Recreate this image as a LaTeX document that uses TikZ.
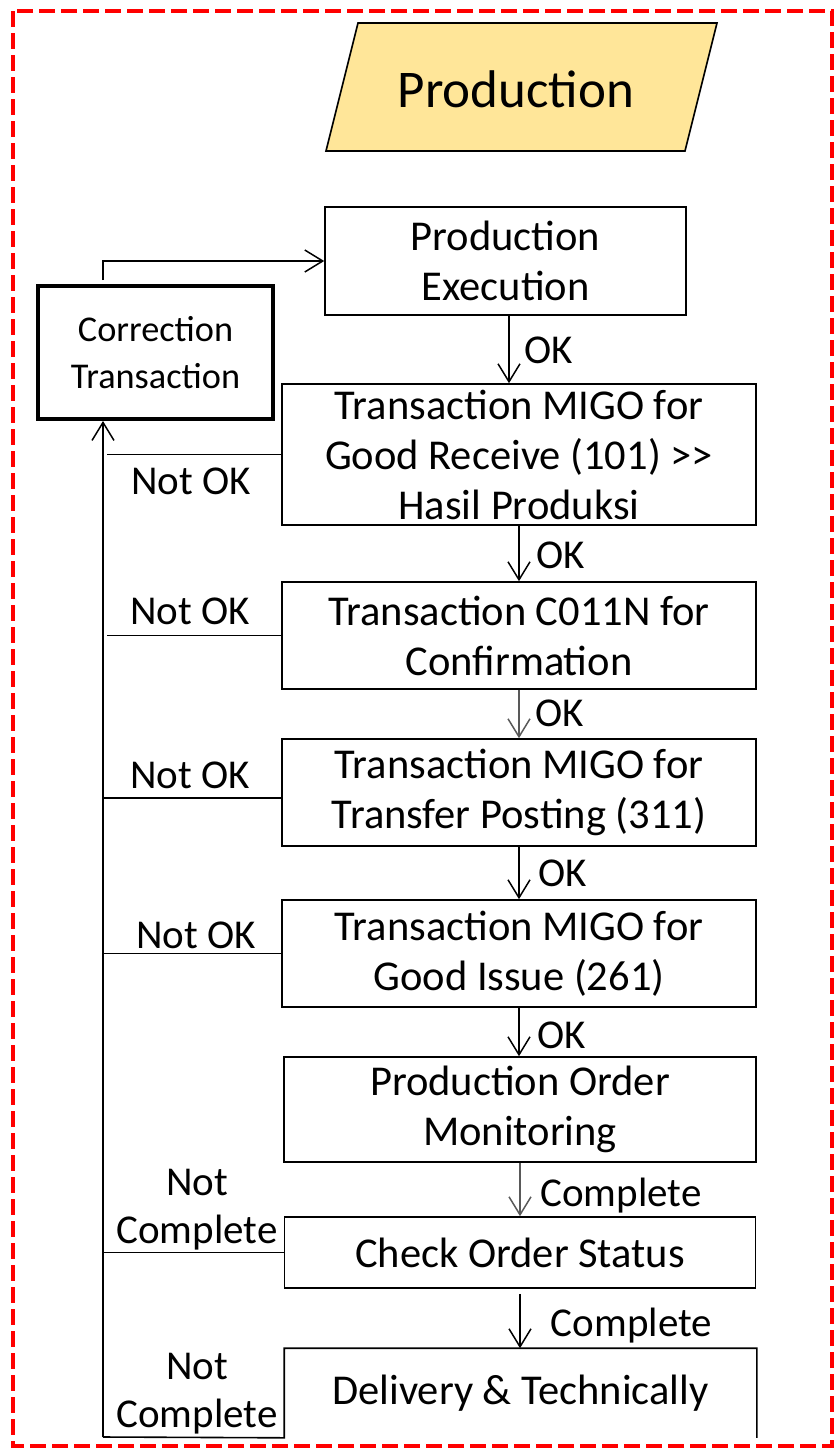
\documentclass[tikz,border=0pt]{standalone}
\usepackage{fontspec}
\setmainfont{Carlito}
\usetikzlibrary{arrows.meta,calc}
\definecolor{prodfill}{HTML}{FFE699}
\definecolor{bordred}{HTML}{FF0000}
\begin{document}
\begin{tikzpicture}[x=1pt,y=-1pt,
  box/.style={draw, line width=1.6pt, minimum width=474pt, inner sep=0pt, align=center, font=\fontsize{42.5}{50}\selectfont},
  arr/.style={-{Straight Barb[length=18pt,width=22pt,line width=1.5pt]}, line width=1.5pt},
  lbl/.style={font=\fontsize{41}{50}\selectfont, anchor=base, inner sep=0pt},
  lbl2/.style={font=\fontsize{41}{48}\selectfont, align=center, inner sep=0pt},
  link/.style={line width=1.6pt}]
\useasboundingbox (0,0) rectangle (838,1448);
\draw[bordred, line width=4pt, dash pattern=on 16pt off 6pt] (13,11) rectangle (832,1446);

% title parallelogram
\filldraw[fill=prodfill, draw=black, line width=1.6pt] (358,23) -- (717,23) -- (685,151) -- (326,151) -- cycle;
\node[font=\fontsize{53}{60}\selectfont, anchor=base, inner sep=0pt] (title) at (516,107) {Production};

% boxes
\node[draw, line width=4pt, minimum width=235pt, minimum height=133pt, inner sep=0pt, align=center, font=\fontsize{36.3}{47}\selectfont] (corr) at (155.5,352.5) {Correction\\Transaction};
\node[box, minimum width=361pt, minimum height=108pt] (pe) at (505.5,261) {Production\\Execution};
\node[box, minimum height=141pt] (b2) at (519,454.5) {Transaction MIGO for\\Good Receive (101) >{}>\\Hasil Produksi};
\node[box, minimum height=107pt] (b3) at (519,635.5) {Transaction C011N for\\Confirmation};
\node[box, minimum height=107pt] (b4) at (519,792.5) {Transaction MIGO for\\Transfer Posting (311)};
\node[box, minimum height=107pt] (b5) at (519,953.5) {Transaction MIGO for\\Good Issue (261)};
\node[box, minimum width=472pt, minimum height=105pt] (b6) at (520,1109.5) {Production Order\\Monitoring};
\node[box, minimum width=471pt, minimum height=71pt] (b7) at (520,1252.5) {Check Order Status};
\node[box, draw=none, minimum width=471pt, minimum height=88pt] (b8) at (520.5,1393) {Delivery \& Technically};

% return spine
\coordinate (spinebot) at (103,1437);
\coordinate (cstart) at (103,280);
\draw[link] (spinebot) -- (b8.south west) -- (b8.north west) -- (b8.north east) -- (b8.south east);
\draw[arr] (spinebot) -- (spinebot |- corr.south);
\draw[arr] (cstart) |- (pe.west);

% not ok lines
\draw[link] (b2.west) -- ++(-174,0);
\draw[link] (b3.west) -- ++(-174,0);
\draw[link] ([yshift=-5.5pt]b4.west) -- ++(-179,0);
\draw[link] (b5.west) -- ++(-179,0);
\draw[link] (b7.west) -- ++(-181.5,0);

% down arrows
\draw[arr] ([xshift=3.5pt]pe.south) -- ([xshift=3.5pt]pe.south |- b2.north);
\draw[arr] (b2.south) -- (b3.north);
\draw[arr, black!65] (b3.south) -- (b4.north);
\draw[arr] (b4.south) -- (b5.north);
\draw[arr] (b5.south) -- (b5.south |- b6.north);
\draw[arr, black!65] (b6.south) -- (b7.north);
\draw[arr] ([yshift=-5pt]b7.south) -- (b7.south |- b8.north);

% labels
\node[lbl] (ok1) at (549,363) {OK};
\node[lbl] (ok2) at (560.5,568) {OK};
\node[lbl] (ok3) at (560,726) {OK};
\node[lbl] (ok4) at (563,886) {OK};
\node[lbl] (ok5) at (561.5,1048) {OK};
\node[lbl] (comp1) at (621,1206) {Complete};
\node[lbl] (comp2) at (631.5,1336) {Complete};
\node[lbl] (nok2) at (191,494) {Not OK};
\node[lbl] (nok3) at (190,624) {Not OK};
\node[lbl] (nok4) at (190,788) {Not OK};
\node[lbl] (nok5) at (196,948) {Not OK};
\node[lbl2] (nc7) at (197,1209.5) {Not\\Complete};
\node[lbl2] (nc8) at (197,1393.5) {Not\\Complete};
\end{tikzpicture}
\end{document}
